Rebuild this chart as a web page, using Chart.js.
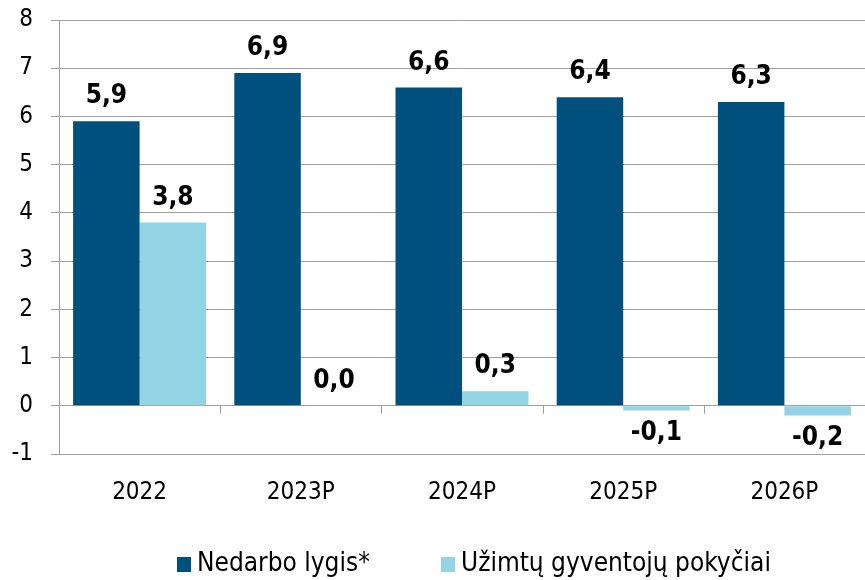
<!DOCTYPE html>
<html>
<head>
<meta charset="utf-8">
<script src="https://cdn.jsdelivr.net/npm/chart.js@4"></script>
<style>
  html, body { margin: 0; padding: 0; background: #fff; }
  #wrap { width: 865px; height: 580px; position: relative; }
</style>
</head>
<body>
<div id="wrap"><canvas id="chart"></canvas></div>
<script>
// data
const years = ['2022', '2023P', '2024P', '2025P', '2026P'];
const unemployment = [5.9, 6.9, 6.6, 6.4, 6.3];
const employmentChange = [3.8, 0.0, 0.3, -0.1, -0.2];
const seriesNames = ['Nedarbo lygis*', 'Užimtų gyventojų pokyčiai'];
const yMin = -1;
const yMax = 8;

const darkBlue = '#00507e';
const lightBlue = '#92d4e4';
const lineGrey = '#a0a0a0';
const tickFont = '"DejaVu Sans Condensed", "Liberation Sans Narrow", "DejaVu Sans", sans-serif';

function fmt(v) {
  return v.toFixed(1).replace('.', ',');
}

// value labels above / below the bars
const valueLabels = {
  id: 'valueLabels',
  afterDatasetsDraw(chart) {
    const ctx = chart.ctx;
    ctx.save();
    ctx.font = 'bold 26px ' + tickFont;
    ctx.fillStyle = '#000';
    ctx.textAlign = 'center';
    chart.data.datasets.forEach((ds, i) => {
      chart.getDatasetMeta(i).data.forEach((bar, j) => {
        const v = ds.data[j];
        if (v < 0) {
          ctx.textBaseline = 'top';
          ctx.fillText(fmt(v), bar.x, bar.y + 10);
        } else {
          ctx.textBaseline = 'alphabetic';
          ctx.fillText(fmt(v), bar.x, bar.y - 18);
        }
      });
    });
    ctx.restore();
  }
};

// small category tick marks hanging from the zero line + legend
const extras = {
  id: 'extras',
  afterDraw(chart) {
    const ctx = chart.ctx;
    const x = chart.scales.x;
    const y0 = chart.scales.y.getPixelForValue(0);
    ctx.save();
    ctx.strokeStyle = lineGrey;
    ctx.lineWidth = 1;
    for (let i = 1; i < years.length; i++) {
      const px = Math.round((x.getPixelForValue(i - 1) + x.getPixelForValue(i)) / 2) + 0.5;
      ctx.beginPath();
      ctx.moveTo(px, y0);
      ctx.lineTo(px, y0 + 8);
      ctx.stroke();
    }

    // legend
    const ly = 564;
    const items = [
      { x: 177, color: darkBlue, text: seriesNames[0] },
      { x: 441, color: lightBlue, text: seriesNames[1] }
    ];
    ctx.font = '26px ' + tickFont;
    ctx.textBaseline = 'middle';
    ctx.textAlign = 'left';
    items.forEach(it => {
      ctx.fillStyle = it.color;
      ctx.fillRect(it.x, ly - 7, 14, 15);
      ctx.fillStyle = '#000';
      ctx.fillText(it.text, it.x + 20, ly);
    });
    ctx.restore();
  }
};

new Chart(document.getElementById('chart'), {
  type: 'bar',
  data: {
    labels: years,
    datasets: [
      {
        label: seriesNames[0],
        data: unemployment,
        backgroundColor: darkBlue,
        categoryPercentage: 0.825,
        barPercentage: 1
      },
      {
        label: seriesNames[1],
        data: employmentChange,
        backgroundColor: lightBlue,
        categoryPercentage: 0.825,
        barPercentage: 1
      }
    ]
  },
  options: {
    responsive: true,
    maintainAspectRatio: false,
    animation: false,
    layout: { padding: { top: 20, right: 0, bottom: 60, left: 0 } },
    plugins: {
      legend: { display: false },
      tooltip: { enabled: false }
    },
    scales: {
      x: {
        grid: { display: false, drawTicks: false },
        border: { display: true, color: lineGrey, width: 1 },
        ticks: {
          color: '#000',
          padding: 24,
          font: { family: tickFont, size: 24 }
        },
        afterFit(scale) { scale.height = 66; }
      },
      y: {
        min: yMin,
        max: yMax,
        grid: {
          color: lineGrey,
          tickColor: lineGrey,
          tickLength: 8
        },
        border: { display: true, color: lineGrey, width: 1 },
        ticks: {
          stepSize: 1,
          color: '#000',
          padding: 18,
          font: { family: tickFont, size: 24 }
        },
        afterFit(scale) {
          scale.width = 59;
          // tick padding would otherwise push the plot top down
          scale.paddingTop = 0;
          scale.paddingBottom = 0;
        }
      }
    }
  },
  plugins: [valueLabels, extras]
});
</script>
</body>
</html>
